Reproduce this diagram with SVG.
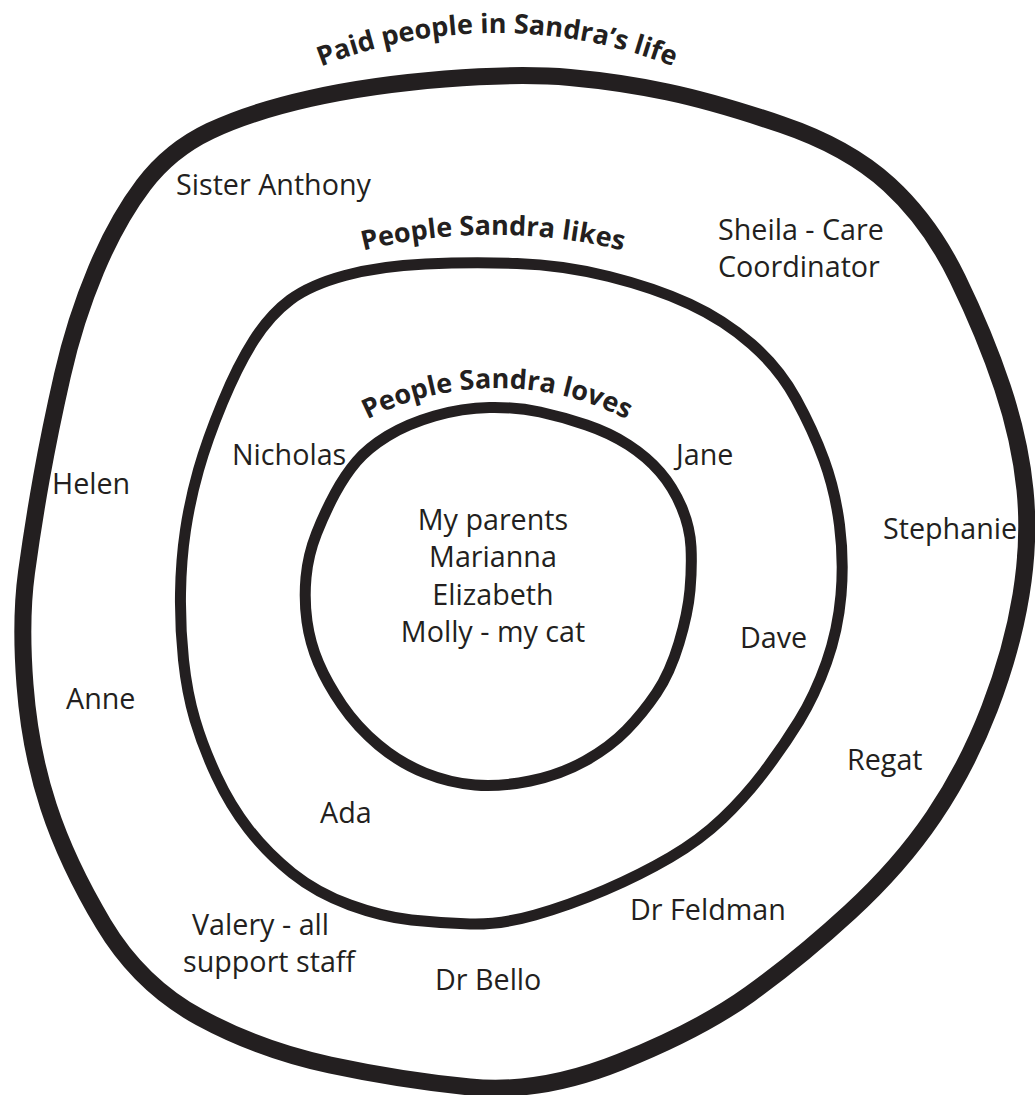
<svg xmlns="http://www.w3.org/2000/svg" width="1035" height="1095" viewBox="0 0 1035 1095">
<style>
.ring{fill:none;stroke:#231f20;stroke-linejoin:round;stroke-linecap:round}
.lbl{font-family:"Open Sans","Noto Sans","Liberation Sans",sans-serif;font-size:28.7px;fill:#231f20}
.title{font-family:"Open Sans","Noto Sans","Liberation Sans",sans-serif;font-size:27px;font-weight:700;fill:#231f20}
</style>
<defs>
<path id="arcOuter" d="M157.6,173.6 A480,480 0 0,1 836.4,173.6"/>
<path id="arcMiddle" d="M146,361 A540,540 0 0,1 840,361"/>
<path id="arcInner" d="M278.7,489.8 A285,285 0 0,1 715.3,489.8"/>
</defs>
<rect width="1035" height="1095" fill="#ffffff"/>
<g id="ring-paid">
<path class="ring" stroke-width="17" d="M445,79 Q520,73 570,77.5 Q620,82 667.5,92 Q715,102 781.5,124.5 Q848,147 889,184.5 Q930,222 957.5,278.5 Q985,335 1002.5,387.5 Q1020,440 1025,490 Q1030,540 1021,595 Q1012,650 989.5,708.5 Q967,767 933.5,816.5 Q900,866 850,912 Q800,958 750,994 Q700,1030 620,1062 Q540,1094 470,1087 Q400,1080 330,1065 Q260,1050 200,1017.5 Q140,985 103.5,924 Q67,863 48.5,806.5 Q30,750 25,685 Q20,620 26.5,572.5 Q33,525 41.5,477.5 Q50,430 62.5,375 Q75,320 96,270 Q117,220 143.5,185 Q170,150 210,131 Q250,112 310,98.5 Q370,85 445,79 Z"/>
<text class="title"><textPath href="#arcOuter" startOffset="50%" text-anchor="middle">Paid people in Sandra’s life</textPath></text>
</g>
<g id="ring-likes">
<path class="ring" stroke-width="11" d="M425.5,264 Q471,262 517,263.5 Q563,265 609,276.5 Q655,288 689.5,304 Q724,320 751.5,344 Q779,368 796,399 Q813,430 824,460 Q835,490 839.5,525 Q844,560 841,595 Q838,630 826.5,662.5 Q815,695 799,721 Q783,747 764,772 Q745,797 722.5,818.5 Q700,840 670,857.5 Q640,875 605,890 Q570,905 535,915 Q500,925 470,924 Q440,923 411.5,920 Q383,917 350,905 Q317,893 292,873 Q267,853 248.5,829 Q230,805 216.5,776 Q203,747 195,720 Q187,693 183.5,660 Q180,627 180.5,593.5 Q181,560 185.5,530 Q190,500 198.5,470 Q207,440 222.5,402.5 Q238,365 254,340 Q270,315 290,300 Q310,285 345,275.5 Q380,266 425.5,264 Z"/>
<text class="title"><textPath href="#arcMiddle" startOffset="50%" text-anchor="middle">People Sandra likes</textPath></text>
</g>
<g id="ring-loves">
<path class="ring" stroke-width="11" d="M434.5,416 Q462,408 489.5,407.5 Q517,407 540,412 Q563,417 586.5,425 Q610,433 628.5,445 Q647,457 660,472 Q673,487 681.5,507 Q690,527 691,547 Q692,567 690,590 Q688,613 679,643 Q670,673 656.5,693 Q643,713 626.5,730 Q610,747 585,761 Q560,775 530,781 Q500,787 475,785 Q450,783 425,773 Q400,763 378.5,745 Q357,727 342,705 Q327,683 318.5,663 Q310,643 307,621.5 Q304,600 306,577.5 Q308,555 316.5,533.5 Q325,512 335,493.5 Q345,475 356.5,461.5 Q368,448 387.5,436 Q407,424 434.5,416 Z"/>
<text class="title"><textPath href="#arcInner" startOffset="50%" text-anchor="middle">People Sandra loves</textPath></text>
</g>
<g id="connectors"></g>
<g id="paid-people">
<text class="lbl" x="176" y="195">Sister Anthony</text>
<text class="lbl" x="718" y="240">Sheila - Care</text>
<text class="lbl" x="718" y="277">Coordinator</text>
<text class="lbl" x="52" y="494">Helen</text>
<text class="lbl" x="883" y="539">Stephanie</text>
<text class="lbl" x="66" y="709">Anne</text>
<text class="lbl" x="847" y="770">Regat</text>
<text class="lbl" x="192" y="935">Valery - all</text>
<text class="lbl" x="183" y="972">support staff</text>
<text class="lbl" x="435" y="990">Dr Bello</text>
</g>
<g id="liked-people">
<text class="lbl" x="232" y="465">Nicholas</text>
<text class="lbl" x="676" y="465">Jane</text>
<text class="lbl" x="740" y="648">Dave</text>
<text class="lbl" x="320" y="823">Ada</text>
<text class="lbl" x="630" y="920">Dr Feldman</text>
</g>
<g id="loved-people" text-anchor="middle">
<text class="lbl" x="493" y="530">My parents</text>
<text class="lbl" x="493" y="567">Marianna</text>
<text class="lbl" x="493" y="605">Elizabeth</text>
<text class="lbl" x="493" y="642">Molly - my cat</text>
</g>
</svg>
